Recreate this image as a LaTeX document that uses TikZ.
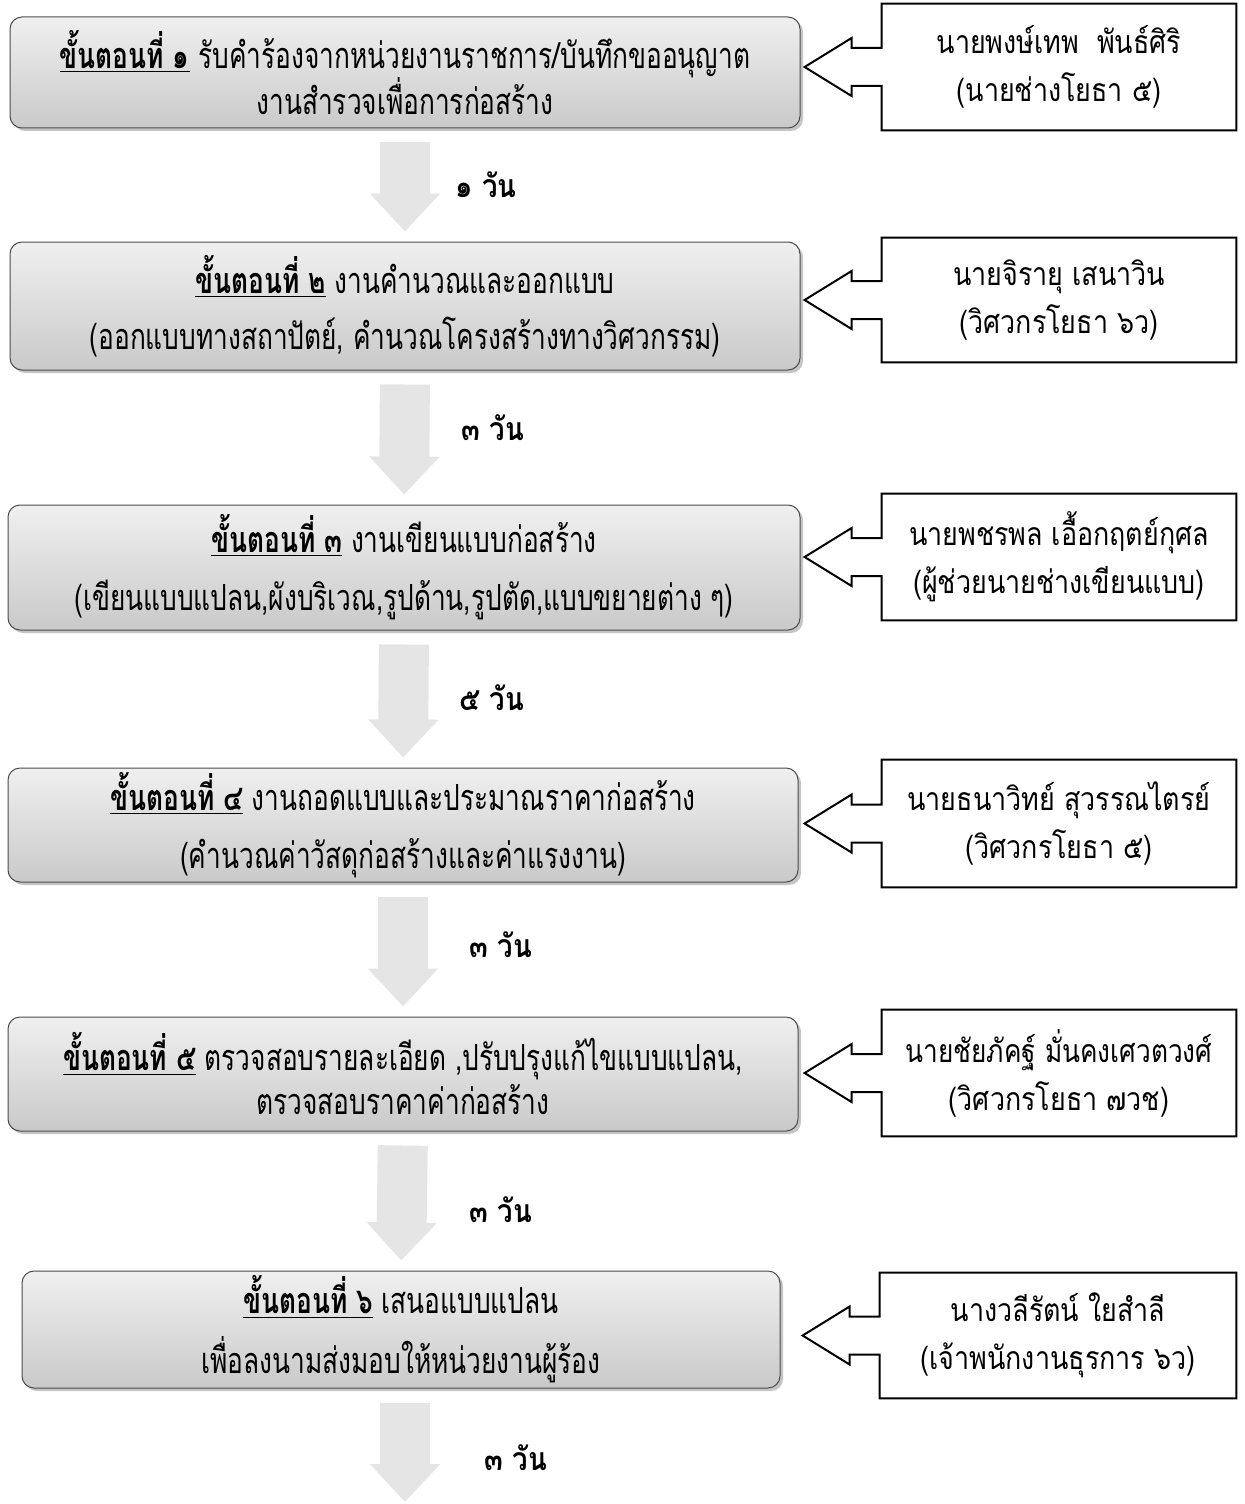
\documentclass[tikz,border=0pt]{standalone}
\usepackage{fontspec}
\newfontfamily\thaifont[Script=Thai]{Loma}
\usetikzlibrary{arrows.meta,calc,shadows}
\begin{document}
\begin{tikzpicture}[x=0.5pt,y=-0.5pt,
    stepbox/.style={draw=gray!60!black,line width=0.5pt,rounded corners=6pt,
      top color=gray!12,bottom color=gray!42,
      drop shadow={shadow xshift=1.5pt,shadow yshift=-1.5pt,opacity=0.45},
      align=center,inner sep=0pt,
      font=\thaifont\fontsize{18}{22}\selectfont},
    personbox/.style={inner sep=0pt,align=center,
      font=\thaifont\fontsize{16}{24}\selectfont},
    personline/.style={line width=1pt,line join=miter},
    daytext/.style={font=\thaifont\bfseries\fontsize{16}{18}\selectfont},
    dayarrow/.style={line width=25pt,draw=gray!20,
      -{Triangle[length=19pt,width=34pt]},shorten <=7pt,shorten >=5pt}]
  \useasboundingbox[fill=white] (0,0) rectangle (1244,1504);
  % steps
  \node[stepbox,minimum width=395pt,minimum height=55.5pt] (s1) at (405,72.5)
    {\scalebox{0.73}[1]{\underline{\textbf{ขั้นตอนที่ ๑}} รับคำร้องจากหน่วยงานราชการ/บันทึกขออนุญาต}\\[-1pt]
     \scalebox{0.73}[1]{งานสำรวจเพื่อการก่อสร้าง}};
  \node[stepbox,minimum width=395pt,minimum height=64pt] (s2) at (405,306)
    {\scalebox{0.73}[1]{\underline{\textbf{ขั้นตอนที่ ๒}} งานคำนวณและออกแบบ}\\[6pt]
     \scalebox{0.73}[1]{(ออกแบบทางสถาปัตย์, คำนวณโครงสร้างทางวิศวกรรม)}};
  \node[stepbox,minimum width=396pt,minimum height=62.5pt] (s3) at (404,567.5)
    {\scalebox{0.73}[1]{\underline{\textbf{ขั้นตอนที่ ๓}} งานเขียนแบบก่อสร้าง}\\[7pt]
     \scalebox{0.73}[1]{(เขียนแบบแปลน,ผังบริเวณ,รูปด้าน,รูปตัด,แบบขยายต่าง ๆ)}};
  \node[stepbox,minimum width=395pt,minimum height=57pt] (s4) at (403,825)
    {\scalebox{0.73}[1]{\underline{\textbf{ขั้นตอนที่ ๔}} งานถอดแบบและประมาณราคาก่อสร้าง}\\[7pt]
     \scalebox{0.73}[1]{(คำนวณค่าวัสดุก่อสร้างและค่าแรงงาน)}};
  \node[stepbox,minimum width=395pt,minimum height=57pt] (s5) at (403,1074)
    {\scalebox{0.73}[1]{\underline{\textbf{ขั้นตอนที่ ๕}} ตรวจสอบรายละเอียด ,ปรับปรุงแก้ไขแบบแปลน,}\\
     \scalebox{0.73}[1]{ตรวจสอบราคาค่าก่อสร้าง}};
  \node[stepbox,minimum width=379pt,minimum height=58.5pt] (s6) at (401,1329.5)
    {\scalebox{0.73}[1]{\underline{\textbf{ขั้นตอนที่ ๖}} เสนอแบบแปลน}\\[8pt]
     \scalebox{0.73}[1]{เพื่อลงนามส่งมอบให้หน่วยงานผู้ร้อง}};
  \coordinate (end) at (405,1502);

  % people
  \node[personbox,minimum width=177pt,minimum height=63pt] (p1) at (1059,67)
    {\scalebox{0.84}[1]{นายพงษ์เทพ\ \ พันธ์ศิริ}\\\scalebox{0.84}[1]{(นายช่างโยธา ๕)}};
  \node[personbox,minimum width=177pt,minimum height=62pt] (p2) at (1059,300)
    {\scalebox{0.84}[1]{นายจิรายุ เสนาวิน}\\\scalebox{0.84}[1]{(วิศวกรโยธา ๖ว)}};
  \node[personbox,minimum width=177pt,minimum height=63pt] (p3) at (1059,557)
    {\scalebox{0.84}[1]{นายพชรพล เอื้อกฤตย์กุศล}\\\scalebox{0.84}[1]{(ผู้ช่วยนายช่างเขียนแบบ)}};
  \node[personbox,minimum width=177pt,minimum height=63.5pt] (p4) at (1059,823.5)
    {\scalebox{0.84}[1]{นายธนาวิทย์ สุวรรณไตรย์}\\\scalebox{0.84}[1]{(วิศวกรโยธา ๕)}};
  \node[personbox,minimum width=177pt,minimum height=63pt] (p5) at (1059,1073)
    {\scalebox{0.82}[1]{นายชัยภัคฐ์ มั่นคงเศวตวงศ์}\\\scalebox{0.84}[1]{(วิศวกรโยธา ๗วช)}};
  \node[personbox,minimum width=178pt,minimum height=62.5pt] (p6) at (1058,1335.5)
    {\scalebox{0.84}[1]{นางวลีรัตน์ ใยสำลี}\\\scalebox{0.84}[1]{(เจ้าพนักงานธุรการ ๖ว)}};
  \foreach \i in {1,...,6}
    \draw[personline] (p\i.north west) -- (p\i.north east) -- (p\i.south east)
      -- (p\i.south west) -- ($(p\i.west)+(0,19)$) -- ($(p\i.west)+(-30,19)$)
      -- ($(p\i.west)+(-30,29)$) -- ($(p\i.west)+(-77,0)$)
      -- ($(p\i.west)+(-30,-29)$) -- ($(p\i.west)+(-30,-19)$)
      -- ($(p\i.west)+(0,-19)$) -- cycle;

  % days
  \draw[dayarrow] (s1.south) -- (s2.north);
  \draw[dayarrow] (s2.south) -- (s3.north);
  \draw[dayarrow] (s3.south) -- (s4.north);
  \draw[dayarrow] (s4.south) -- (s5.north);
  \draw[dayarrow] (s5.south) -- (s6.north);
  \draw[dayarrow,shorten >=0pt] (s6.south -| end) -- (end);
  \node[daytext] (d1) at (486,185) {\scalebox{0.86}[1]{๑ วัน}};
  \node[daytext] (d2) at (493,428) {\scalebox{0.86}[1]{๓ วัน}};
  \node[daytext] (d3) at (492,698) {\scalebox{0.86}[1]{๕ วัน}};
  \node[daytext] (d4) at (501,945) {\scalebox{0.86}[1]{๓ วัน}};
  \node[daytext] (d5) at (501,1210) {\scalebox{0.86}[1]{๓ วัน}};
  \node[daytext] (d6) at (516,1458) {\scalebox{0.86}[1]{๓ วัน}};
\end{tikzpicture}
\end{document}
